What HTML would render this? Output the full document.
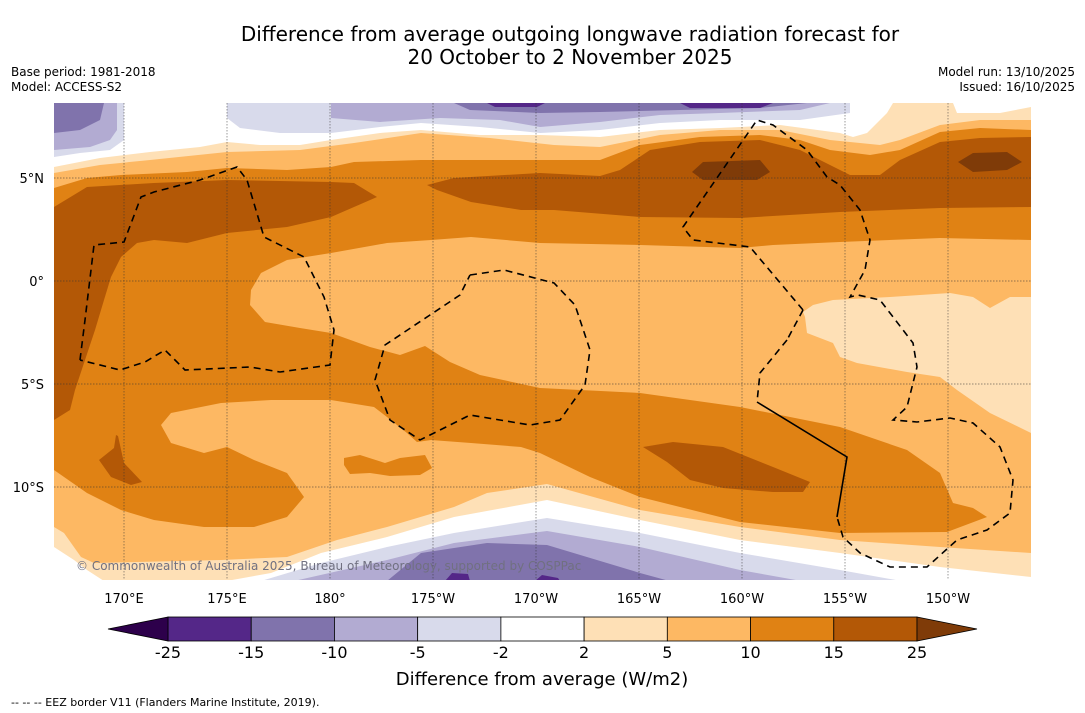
<!DOCTYPE html>
<html><head><meta charset="utf-8"><style>
body{margin:0;background:#fff;width:1085px;height:713px;overflow:hidden;font-family:"Liberation Sans",sans-serif;}
svg{position:absolute;left:0;top:0}
text{font-family:"DejaVu Sans","Liberation Sans",sans-serif}
</style></head><body>
<svg id="chart" width="1085" height="713" viewBox="0 0 1085 713">
<rect x="0" y="0" width="1085" height="713" fill="#fff"/>
<text x="570" y="41" font-size="20" text-anchor="middle">Difference from average outgoing longwave radiation forecast for</text>
<text x="570" y="64" font-size="20" text-anchor="middle">20 October to 2 November 2025</text>
<text x="11" y="76" font-size="12">Base period: 1981-2018</text>
<text x="11" y="91" font-size="12">Model: ACCESS-S2</text>
<text x="1075" y="76" font-size="12" text-anchor="end">Model run: 13/10/2025</text>
<text x="1075" y="91" font-size="12" text-anchor="end">Issued: 16/10/2025</text>
<defs><clipPath id="mc"><rect x="54" y="103" width="977" height="477"/></clipPath></defs>
<g id="map" clip-path="url(#mc)">
<rect x="54" y="103" width="977" height="477" fill="#fdb863"/>
<polygon fill="#e08214" points="54,103 1031,103 1031,240 940,238 840,242 773,245 740,248 640,245 540,243 471,237 431,240 387,243 331,253 287,260 261,273 251,290 250,305 265,322 300,328 331,333 370,347 400,355 425,346 450,362 480,375 540,388 640,393 740,407 840,427 907,450 940,473 953,503 973,508 987,517 947,532 840,533 740,522 640,497 590,477 540,453 521,447 471,443 431,440 417,442 407,433 387,417 374,407 331,400 271,400 221,403 171,413 161,425 171,443 204,453 227,447 254,460 287,473 304,497 287,517 254,527 204,527 154,520 121,510 87,493 54,470"/>
<polygon fill="#e08214" points="344,458 360,455 385,463 400,458 425,455 432,468 420,475 390,476 370,473 350,474 344,465"/>
<polygon fill="#fdb863" points="54,188 87,178 121,175 187,172 227,168 287,170 331,167 354,162 421,160 554,160 600,160 640,145 700,137 760,135 800,140 830,150 870,155 900,150 940,132 980,128 1031,130 1031,103 54,103"/>
<polygon fill="#fee0b6" points="54,173 100,165 150,160 227,152 300,150 354,143 421,133 490,138 554,145 600,147 660,135 720,130 780,130 830,140 880,145 900,140 940,125 980,120 1031,120 1031,103 54,103"/>
<polygon fill="#ffffff" points="54,167 100,158 150,152 200,147 227,142 260,145 300,145 331,140 380,133 421,130 480,135 540,135 600,137 660,130 720,128 780,125 840,133 853,137 867,133 887,113 893,103 54,103"/>
<polygon fill="#ffffff" points="953,103 957,113 1000,113 1031,107 1031,103"/>
<polygon fill="#d8daeb" points="54,157 80,153 110,150 124,140 124,103 54,103"/>
<polygon fill="#d8daeb" points="227,103 227,118 240,128 280,133 331,133 380,127 421,123 480,127 540,133 600,130 660,123 720,120 800,120 850,113 850,103"/>
<polygon fill="#b2abd2" points="54,150 90,147 110,140 117,130 117,103 54,103"/>
<polygon fill="#b2abd2" points="331,103 331,118 380,122 440,118 500,120 540,127 600,122 660,115 720,113 800,110 830,103"/>
<polygon fill="#8073ac" points="54,133 80,130 100,120 104,103 54,103"/>
<polygon fill="#8073ac" points="454,103 470,110 540,113 600,112 680,110 760,108 807,103"/>
<polygon fill="#542788" points="487,103 495,107 537,107 545,103"/>
<polygon fill="#542788" points="680,103 690,108 760,108 773,103"/>
<polygon fill="#b35806" points="54,207 87,187 154,183 227,180 331,182 354,183 377,197 354,207 331,217 287,227 227,233 187,243 154,240 137,243 121,257 111,277 104,300 95,330 85,360 75,390 70,410 54,420"/>
<polygon fill="#b35806" points="427,185 454,178 540,173 600,176 620,170 650,150 700,142 760,140 800,150 830,165 850,175 880,175 900,160 940,142 980,138 1031,137 1031,207 940,208 840,212 740,218 640,217 554,210 521,210 471,202 437,190"/>
<polygon fill="#7f3b08" points="692,172 703,162 760,160 770,172 757,180 703,180"/>
<polygon fill="#7f3b08" points="958,162 973,153 1007,152 1022,162 1007,170 973,172"/>
<polygon fill="#fee0b6" points="803,312 813,305 833,300 890,297 950,293 973,297 990,308 1010,297 1031,297 1031,433 990,413 957,390 940,377 907,372 857,363 840,357 833,343 807,333 805,317"/>
<polygon fill="#b35806" points="643,447 673,442 723,447 773,467 810,482 803,492 773,492 723,488 690,480 667,462"/>
<polygon fill="#b35806" points="99,460 114,448 116,435 118,436 124,463 142,482 131,485 111,477"/>
<polygon fill="#fee0b6" points="54,527 64,533 81,557 94,563 221,560 287,557 337,540 387,527 454,507 487,493 547,484 640,510 740,527 840,540 940,547 1031,553 1031,580 54,580"/>
<polygon fill="#ffffff" points="54,547 74,560 87,570 104,581 221,582 271,573 321,553 387,537 454,517 547,500 640,520 740,540 840,553 940,567 1031,577 1031,580 54,580"/>
<polygon fill="#d8daeb" points="261,581 321,563 387,547 454,533 547,518 640,533 740,553 840,570 907,582"/>
<polygon fill="#b2abd2" points="294,581 387,560 454,543 547,531 640,547 740,570 807,582"/>
<polygon fill="#8073ac" points="387,581 421,553 487,543 547,545 640,573 673,582"/>
<polygon fill="#542788" points="445,581 452,573 468,574 470,581"/>
<polygon fill="#542788" points="535,581 542,575 558,578 560,581"/>
<g id="grid" stroke="#333" stroke-width="0.7" stroke-dasharray="1.5,1.5" opacity="0.7"></g>
<g fill="none" stroke="#000" stroke-width="1.6" stroke-dasharray="7,5">
<polyline points="80,360 85,320 94,245 124,242 141,197 154,192 200,180 237,167 247,180 264,237 304,257 324,297 334,330 330,365 280,372 250,367 185,370 165,350 145,362 120,370 80,360"/>
<polyline points="470,275 504,270 554,283 575,305 590,350 585,385 560,420 530,425 470,415 420,440 390,420 375,380 385,345 430,315 460,295 470,275"/>
<polyline points="787,340 760,373 757,402"/>
<polyline points="803,310 750,247 693,240 683,227 757,120 773,125 807,150 827,177 840,185 860,210 870,240 865,270 850,297 858,295 880,300 913,343 917,367 907,407 893,420 917,422 950,418 973,423 1000,447 1013,480 1010,513 987,530 957,540 927,567 890,567 860,553 843,537 837,517"/>
<polyline points="803,310 787,340"/>
</g>
<polyline points="757,402 847,457 837,517" fill="none" stroke="#000" stroke-width="1.6"/>
<text x="76" y="570" font-size="12" fill="#707080">© Commonwealth of Australia 2025, Bureau of Meteorology, supported by COSPPac</text>
</g>
<g id="axes"></g>
<g id="colorbar"></g>
<text x="542" y="685" font-size="18" text-anchor="middle">Difference from average (W/m2)</text>
<text x="11" y="706" font-size="11">--  --  -- EEZ border V11 (Flanders Marine Institute, 2019).</text>
</svg>
<script>
const lonLabels = ["170°E","175°E","180°","175°W","170°W","165°W","160°W","155°W","150°W"];
const lonValues = [170,175,180,185,190,195,200,205,210];
const latLabels = ["5°N","0°","5°S","10°S"];
const latValues = [5,0,-5,-10];
const cbLevels = [-25,-15,-10,-5,-2,2,5,10,15,25];
const cbColors = ["#542788","#8073ac","#b2abd2","#d8daeb","#ffffff","#fee0b6","#fdb863","#e08214","#b35806"];
const cbLow = "#2d004b", cbHigh = "#7f3b08";
const NS="http://www.w3.org/2000/svg";
const xLon = v => 124 + (v-170)*20.6;
const yLat = v => 281 - v*20.6;
function mk(tag, attrs, parent){const e=document.createElementNS(NS,tag);for(const k in attrs)e.setAttribute(k,attrs[k]);parent.appendChild(e);return e;}
const grid=document.getElementById('grid'), axes=document.getElementById('axes'), cb=document.getElementById('colorbar');
lonValues.forEach((v,i)=>{
  const l=mk('line',{x1:xLon(v),x2:xLon(v),y1:103,y2:580},grid);
  
  
  const t=mk('text',{x:xLon(v),y:603,'font-size':13,'text-anchor':'middle'},axes);
  
  
  t.textContent=lonLabels[i];
});
latValues.forEach((v,i)=>{
  const l=mk('line',{x1:54,x2:1031,y1:yLat(v),y2:yLat(v)},grid);
  
  
  const t=mk('text',{x:44,y:yLat(v)+5,'font-size':13,'text-anchor':'end'},axes);
  
  
  t.textContent=latLabels[i];
});
const cx0=168, cx1=917, cy=617, ch=24, bw=(cx1-cx0)/cbColors.length;
cbColors.forEach((c,i)=>{
  const r=mk('rect',{x:cx0+i*bw,y:cy,width:bw,height:ch,fill:c,stroke:'#000','stroke-width':0.8},cb);
  
  
});
const lt=mk('polygon',{points:`${cx0},${cy} 108,${cy+ch/2} ${cx0},${cy+ch}`,fill:cbLow,stroke:'#000','stroke-width':0.8},cb);


const ht=mk('polygon',{points:`${cx1},${cy} 977,${cy+ch/2} ${cx1},${cy+ch}`,fill:cbHigh,stroke:'#000','stroke-width':0.8},cb);


cbLevels.forEach((v,i)=>{
  const t=mk('text',{x:cx0+i*bw,y:658,'font-size':16,'text-anchor':'middle'},cb);
  
  
  t.textContent=String(v);
});
</script>
</body></html>
